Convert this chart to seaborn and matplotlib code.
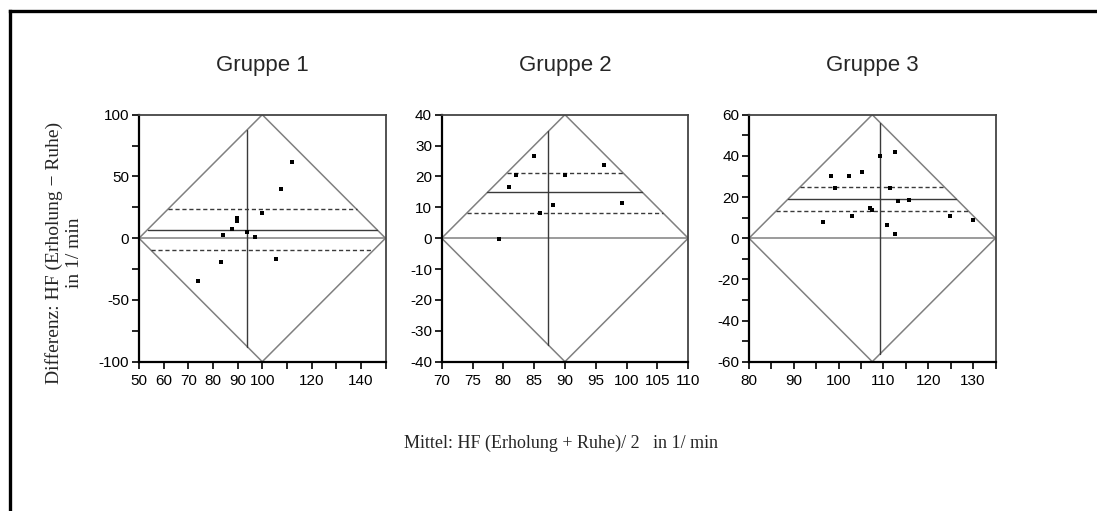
import numpy as np
import pandas as pd
import matplotlib
matplotlib.use("Agg")
import matplotlib.pyplot as plt
from matplotlib.lines import Line2D
from matplotlib.ticker import FixedLocator, FixedFormatter
import seaborn as sns

# ---------------- data ----------------
groups = ["Gruppe 1", "Gruppe 2", "Gruppe 3"]

g1_mean = [112.2, 107.7, 99.9, 89.9, 89.9, 87.8, 83.9, 93.9, 97.2, 83.2, 105.5, 73.8]
g1_diff = [61.6, 39.5, 20.4, 16.7, 14.2, 7.3, 2.7, 5.4, 0.8, -19.4, -17.2, -34.9]

g2_mean = [84.9, 82.0, 80.9, 90.0, 96.4, 99.3, 88.0, 86.0, 79.3]
g2_diff = [26.6, 20.6, 16.5, 20.6, 23.6, 11.5, 10.6, 8.3, -0.4]

g3_mean = [98.3, 102.3, 105.3, 99.3, 109.3, 112.5, 111.5, 113.3, 115.7, 106.9,
           107.5, 102.9, 96.5, 110.9, 112.5, 124.9, 129.9]
g3_diff = [30.0, 30.0, 32.1, 24.2, 40.1, 42.0, 24.2, 18.1, 18.7, 14.6,
           13.8, 10.6, 7.9, 6.5, 2.0, 10.6, 8.6]

# mean difference, upper / lower dashed limits, overall mean of means
mean_diff = [7.0, 14.85, 19.2]
upper_lim = [23.4, 21.2, 24.9]
lower_lim = [-9.9, 8.3, 13.0]
mean_of_means = [93.9, 87.3, 109.3]

# axis ranges
x_ranges = [(50, 150), (70, 110), (80, 135)]
y_ranges = [(-100, 100), (-40, 40), (-60, 60)]

# ticks and tick labels
x_ticks = [list(range(50, 151, 10)), list(range(70, 111, 5)), list(range(80, 136, 5))]
x_labels = [["50", "60", "70", "80", "90", "100", "", "120", "", "140", ""],
            ["70", "75", "80", "85", "90", "95", "100", "105", "110"],
            ["80", "", "90", "", "100", "", "110", "", "120", "", "130", ""]]
y_ticks = [list(range(-100, 101, 25)), list(range(-40, 41, 10)), list(range(-60, 61, 10))]
y_labels = [["-100", "", "-50", "", "0", "", "50", "", "100"],
            ["-40", "-30", "-20", "-10", "0", "10", "20", "30", "40"],
            ["-60", "", "-40", "", "-20", "", "0", "", "20", "", "40", "", "60"]]

means = [g1_mean, g2_mean, g3_mean]
diffs = [g1_diff, g2_diff, g3_diff]

# ---------------- style ----------------
sns.set_theme(style="ticks")
plt.rcParams["font.family"] = ["Liberation Sans", "DejaVu Sans"]
plt.rcParams["axes.linewidth"] = 1.4
plt.rcParams["xtick.major.size"] = 5
plt.rcParams["ytick.major.size"] = 5
plt.rcParams["xtick.major.width"] = 1.2
plt.rcParams["ytick.major.width"] = 1.2
plt.rcParams["xtick.color"] = "black"
plt.rcParams["ytick.color"] = "black"

W, H = 1097, 511
fig = plt.figure(figsize=(W / 100, H / 100), dpi=100)
fig.patch.set_facecolor("white")

ax_left_px = [139, 441.7, 749]
ax_w_px = 246.5
ax_top_px, ax_bot_px = 114.7, 361.7

gray = "#808080"
dark = "#3a3a3a"

for i in range(3):
    ax = fig.add_axes([ax_left_px[i] / W, 1 - ax_bot_px / H,
                       ax_w_px / W, (ax_bot_px - ax_top_px) / H])
    x0, x1 = x_ranges[i]
    y0, y1 = y_ranges[i]
    xc = (x0 + x1) / 2
    hw = (x1 - x0) / 2

    # diamond and zero line
    ax.plot([x0, xc, x1, xc, x0], [0, y1, 0, y0, 0], color=gray, lw=1.1, zorder=2)
    ax.plot([x0, x1], [0, 0], color=gray, lw=1.1, zorder=2)

    # horizontal lines, clipped to diamond
    for val, ls in [(mean_diff[i], "-"), (upper_lim[i], "--"), (lower_lim[i], "--")]:
        h = hw * (1 - abs(val) / y1)
        ax.plot([xc - h, xc + h], [val, val], color=dark, lw=1.0,
                linestyle=ls, dashes=(3, 2) if ls == "--" else (None, None), zorder=3)

    # vertical line at mean of means, clipped to diamond
    m = mean_of_means[i]
    vh = y1 * (1 - abs(m - xc) / hw)
    ax.plot([m, m], [-vh, vh], color=dark, lw=1.0, zorder=3)

    df = pd.DataFrame({"mean": means[i], "diff": diffs[i]})
    sns.scatterplot(data=df, x="mean", y="diff", ax=ax, marker="s", s=7,
                    color="black", linewidth=0, zorder=4)

    ax.set_xlim(x0, x1)
    ax.set_ylim(y0, y1)
    ax.xaxis.set_major_locator(FixedLocator(x_ticks[i]))
    ax.xaxis.set_major_formatter(FixedFormatter(x_labels[i]))
    ax.yaxis.set_major_locator(FixedLocator(y_ticks[i]))
    ax.yaxis.set_major_formatter(FixedFormatter(y_labels[i]))
    ax.tick_params(axis="both", labelsize=11, direction="out")
    ax.tick_params(axis="x", pad=3.5)
    ax.tick_params(axis="y", pad=2)
    ax.set_xlabel("")
    ax.set_ylabel("")
    for side in ["left", "bottom"]:
        ax.spines[side].set_color("black")
        ax.spines[side].set_linewidth(1.6)
    for side in ["top", "right"]:
        ax.spines[side].set_visible(True)
        ax.spines[side].set_color("#444444")
        ax.spines[side].set_linewidth(1.3)

    cx = (ax_left_px[i] + ax_w_px / 2) / W
    fig.text(cx, 1 - 71 / H, groups[i], ha="center", va="baseline", fontsize=16)

# axis titles (serif)
fig.text(561 / W, 1 - 448 / H, "Mittel: HF (Erholung + Ruhe)/ 2   in 1/ min",
         ha="center", va="baseline", fontsize=13,
         family=["Liberation Serif", "DejaVu Serif"])
fig.text(64 / W, 1 - 253 / H, "Differenz: HF (Erholung \u2212 Ruhe)\nin 1/ min",
         ha="center", va="center", rotation=90, fontsize=14, multialignment="center",
         linespacing=1.3, family=["Liberation Serif", "DejaVu Serif"])

# outer frame (left and top edges)
fig.add_artist(Line2D([9.5 / W, 9.5 / W], [0, 1 - 11.5 / H], transform=fig.transFigure,
                      color="black", lw=2.4, solid_capstyle="projecting"))
fig.add_artist(Line2D([9.5 / W, 1], [1 - 11.5 / H, 1 - 11.5 / H], transform=fig.transFigure,
                      color="black", lw=2.4, solid_capstyle="projecting"))

fig.savefig("out.png", dpi=100, facecolor="white")
